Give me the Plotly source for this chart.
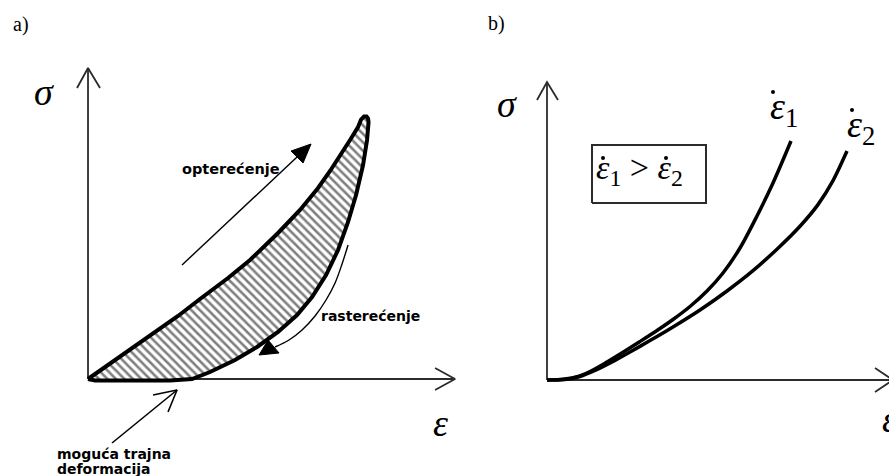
import plotly.graph_objects as go

# ---------------- data (arbitrary strain / stress units) ----------------
# Panel a: hysteresis loop (loading branch, then unloading branch back to origin)
load_eps = [0.00, 0.20, 0.40, 0.62, 0.90, 1.12, 1.40, 1.62, 1.90, 2.12, 2.30, 2.42, 2.52, 2.62, 2.70, 2.73, 2.76]
load_sig = [0.00, 0.14, 0.28, 0.44, 0.63, 0.80, 1.01, 1.19, 1.46, 1.69, 1.91, 2.08, 2.23, 2.39, 2.52, 2.595, 2.625]
unload_eps = [2.785, 2.80, 2.805, 2.80, 2.79, 2.75, 2.68, 2.60, 2.50, 2.38, 2.24, 2.09, 1.90, 1.69, 1.47,
              1.22, 1.04, 0.82, 0.32, 0.07, 0.00]
unload_sig = [2.625, 2.605, 2.57, 2.51, 2.39, 2.14, 1.84, 1.57, 1.29, 1.04, 0.82, 0.64, 0.47, 0.32, 0.19,
              0.07, 0.00, -0.015, -0.02, -0.015, 0.00]

# explanatory arrows, panel a
arrow_load_eps = [0.94, 2.09]
arrow_load_sig = [1.14, 2.22]
arrow_load_head_eps = [2.23, 2.03, 2.15, 2.23]
arrow_load_head_sig = [2.35, 2.28, 2.16, 2.35]
arrow_unload_eps = [2.60, 2.54, 2.47, 2.38, 2.27, 2.14, 2.01, 1.87]
arrow_unload_sig = [1.34, 1.15, 0.96, 0.79, 0.63, 0.49, 0.39, 0.32]
arrow_unload_head_eps = [1.71, 1.80, 1.91, 1.71]
arrow_unload_head_sig = [0.24, 0.39, 0.26, 0.24]
arrow_perm_eps = [0.24, 0.89]
arrow_perm_sig = [-0.64, -0.11]
arrow_perm_head_eps = [0.65, 0.89, 0.80]
arrow_perm_head_sig = [-0.16, -0.11, -0.33]

# axes, panel a
axis_a_y_eps = [0.0, 0.0]
axis_a_y_sig = [0.0, 3.11]
axis_a_x_eps = [0.0, 3.67]
axis_a_x_sig = [0.0, 0.0]
axis_a_yhead_eps = [-0.11, 0.0, 0.12]
axis_a_yhead_sig = [2.91, 3.11, 2.91]
axis_a_xhead_eps = [3.47, 3.67, 3.47]
axis_a_xhead_sig = [0.11, 0.0, -0.11]

# Panel b: curves for two strain rates
rate1_eps = [0.00, 0.13, 0.28, 0.43, 0.60, 0.78, 0.93, 1.10, 1.26, 1.43, 1.60, 1.76, 1.93, 2.10, 2.26, 2.44]
rate1_sig = [0.00, 0.004, 0.027, 0.085, 0.18, 0.29, 0.385, 0.495, 0.605, 0.735, 0.89, 1.07, 1.32, 1.64, 1.97, 2.39]
rate2_eps = [0.00, 0.18, 0.33, 0.48, 0.65, 0.83, 1.03, 1.26, 1.53, 1.80, 2.06, 2.31, 2.53, 2.71, 2.86, 3.00]
rate2_sig = [0.00, 0.005, 0.035, 0.095, 0.18, 0.28, 0.394, 0.53, 0.70, 0.89, 1.093, 1.318, 1.538, 1.754, 1.994, 2.29]

axis_b_y_eps = [0.0, 0.0]
axis_b_y_sig = [0.0, 2.98]
axis_b_x_eps = [0.0, 3.46]
axis_b_x_sig = [0.0, 0.0]
axis_b_yhead_eps = [-0.10, 0.0, 0.11]
axis_b_yhead_sig = [2.80, 2.98, 2.80]
axis_b_xhead_eps = [3.28, 3.46, 3.28]
axis_b_xhead_sig = [0.12, 0.0, -0.12]

# legend box (eps1 > eps2) and the dots of the rate symbols
box_eps = [0.45, 1.59, 1.59, 0.45, 0.45]
box_sig = [1.77, 1.77, 2.35, 2.35, 1.77]
dot_eps = [2.26, 3.05, 0.56, 1.19]
dot_sig = [2.88, 2.70, 2.22, 2.22]

AX = "#2b2b2b"
BLK = "#000000"

fig = go.Figure()

def line(x, y, w, color=BLK, xa="x", ya="y", shape="linear", fill=None, smoothing=1.0):
    fig.add_trace(go.Scatter(x=x, y=y, mode="lines", xaxis=xa, yaxis=ya,
                             line=dict(color=color, width=w, shape=shape,
                                       smoothing=smoothing if shape == "spline" else None),
                             fill=fill, fillcolor=color if fill else None,
                             hoverinfo="skip", showlegend=False))

# panel a axes
line(axis_a_y_eps, axis_a_y_sig, 1.8, AX)
line(axis_a_x_eps, axis_a_x_sig, 1.8, AX)
line(axis_a_yhead_eps, axis_a_yhead_sig, 1.8, AX)
line(axis_a_xhead_eps, axis_a_xhead_sig, 1.8, AX)

# loop
fig.add_trace(go.Scatter(
    x=load_eps + unload_eps, y=load_sig + unload_sig, mode="lines",
    fill="toself", fillcolor="white",
    fillpattern=dict(shape="\\", size=6, solidity=0.42, fgcolor="#000000", bgcolor="white"),
    line=dict(color=BLK, width=4),
    hoverinfo="skip", showlegend=False))

# arrows
line(arrow_load_eps, arrow_load_sig, 1.4)
line(arrow_load_head_eps, arrow_load_head_sig, 1, fill="toself")
line(arrow_unload_eps, arrow_unload_sig, 1.4, shape="spline")
line(arrow_unload_head_eps, arrow_unload_head_sig, 1, fill="toself")
line(arrow_perm_eps, arrow_perm_sig, 1.6)
line(arrow_perm_head_eps, arrow_perm_head_sig, 1.6)

# panel b
line(axis_b_y_eps, axis_b_y_sig, 1.8, AX, "x2", "y2")
line(axis_b_x_eps, axis_b_x_sig, 1.8, AX, "x2", "y2")
line(axis_b_yhead_eps, axis_b_yhead_sig, 1.8, AX, "x2", "y2")
line(axis_b_xhead_eps, axis_b_xhead_sig, 1.8, AX, "x2", "y2")
line(rate1_eps, rate1_sig, 3.5, BLK, "x2", "y2", shape="spline", smoothing=0.8)
line(rate2_eps, rate2_sig, 3.5, BLK, "x2", "y2", shape="spline", smoothing=0.8)
line(box_eps, box_sig, 2, AX, "x2", "y2")
fig.add_trace(go.Scatter(x=dot_eps, y=dot_sig, mode="markers", xaxis="x2", yaxis="y2",
                         marker=dict(color=BLK, size=4), hoverinfo="skip", showlegend=False))

SERIF = "Liberation Serif"
SANS = "DejaVu Sans"

ann = []
def txt(text, x, y, size, family=SERIF, xref="x", yref="y", **kw):
    d = dict(text=text, x=x, y=y, xref=xref, yref=yref, showarrow=False,
             xanchor="center", yanchor="middle",
             font=dict(family=family, size=size, color=BLK))
    d.update(kw)
    ann.append(d)

txt("a)", 0.0236, 0.9475, 20, xref="paper", yref="paper")
txt("b)", 0.558, 0.9496, 20, xref="paper", yref="paper")
txt("<i>\u03c3</i>", -0.44, 2.87, 38)
txt("<i>\u03b5</i>", 3.52, -0.44, 38)
txt("<b>optere\u0107enje</b>", 1.43, 2.10, 14.5, SANS)
txt("<b>rastere\u0107enje</b>", 2.82, 0.63, 14, SANS)
txt("<b>mogu\u0107a trajna</b>", -0.33, -0.745, 14, SANS, xanchor="left")
txt("<b>deformacija</b>", -0.33, -0.895, 14, SANS, xanchor="left")

txt("<i>\u03c3</i>", -0.40, 2.76, 38, xref="x2", yref="y2")
txt("<i>\u03b5</i>", 3.33, -0.39, 38, xref="x2", yref="y2", xanchor="left")
# rate labels
txt("<i>\u03b5</i><sub>1</sub>", 2.367, 2.71, 38, xref="x2", yref="y2")
txt("<i>\u03b5</i><sub>2</sub>", 3.137, 2.53, 38, xref="x2", yref="y2")
# box text
txt("<i>\u03b5</i><sub>1</sub> &gt; <i>\u03b5</i><sub>2</sub>", 0.92, 2.10, 34, xref="x2", yref="y2")

fig.update_layout(
    width=889, height=476, margin=dict(l=0, r=0, t=0, b=0),
    paper_bgcolor="white", plot_bgcolor="rgba(0,0,0,0)",
    showlegend=False, annotations=ann,
    xaxis=dict(domain=[0, 0.53], range=[-0.88, 3.831], visible=False, fixedrange=True),
    yaxis=dict(domain=[0, 1], range=[-0.97, 3.79], visible=False, fixedrange=True),
    xaxis2=dict(domain=[0.5, 1], range=[-1.025, 3.42], visible=False, fixedrange=True),
    yaxis2=dict(domain=[0, 1], range=[-0.96, 3.80], visible=False, fixedrange=True),
)

fig.write_html("out.html", config={"displayModeBar": False},
               post_script="document.body.style.margin='0px';document.body.style.padding='0px';")
